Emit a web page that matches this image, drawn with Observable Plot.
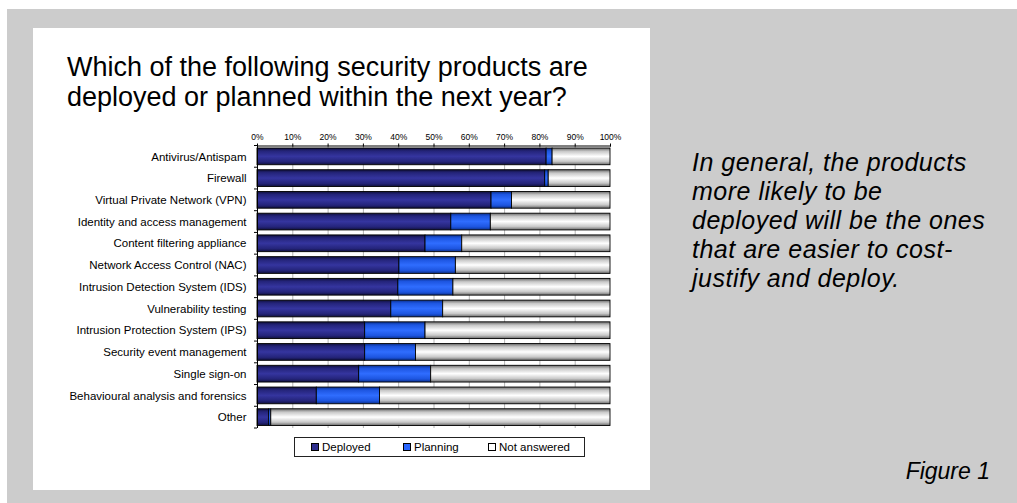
<!DOCTYPE html>
<html>
<head>
<meta charset="utf-8">
<script src="https://cdn.jsdelivr.net/npm/d3@7"></script>
<script src="https://cdn.jsdelivr.net/npm/@observablehq/plot@0.6"></script>
<style>
  html, body { margin: 0; padding: 0; background: #ffffff; }
  #page { position: relative; width: 1017px; height: 503px; overflow: hidden; font-family: "Liberation Sans", Arial, sans-serif; color: #000; }
  #gray { position: absolute; left: 7px; top: 9px; width: 1010px; height: 494px; background: #cccccc; }
  #panel { position: absolute; left: 33px; top: 28px; width: 617px; height: 462px; background: #ffffff; }
  #title { position: absolute; left: 67px; top: 52px; font-size: 27px; line-height: 30px; white-space: nowrap; }
  #note { position: absolute; left: 692px; top: 147.5px; font-size: 25px; line-height: 29px; font-style: italic; letter-spacing: 0.5px; white-space: nowrap; }
  #fig { position: absolute; right: 27px; top: 460px; font-size: 23px; line-height: 23px; font-style: italic; white-space: nowrap; }
  #chart { position: absolute; left: 0px; top: 120px; }
  #legend { position: absolute; left: 294px; top: 437px; width: 289px; height: 18px; border: 1px solid #222; background: #fff; font-size: 11.5px; }
  .item { position: absolute; top: 2px; line-height: 14px; white-space: nowrap; }
  .sw { display: inline-block; width: 6px; height: 6px; border: 1px solid #000; margin-right: 3px; vertical-align: 0px; }
</style>
</head>
<body>
<div id="page">
  <div id="gray"></div>
  <div id="panel"></div>
  <div id="title">Which of the following security products are<br>deployed or planned within the next year?</div>
  <div id="note">In general, the products<br>more likely to be<br>deployed will be the ones<br>that are easier to cost-<br>justify and deploy.</div>
  <div id="fig">Figure 1</div>
  <div id="chart"></div>
  <div id="legend"></div>
</div>
<script>
// ---- data ----
const categories = [
  "Antivirus/Antispam",
  "Firewall",
  "Virtual Private Network (VPN)",
  "Identity and access management",
  "Content filtering appliance",
  "Network Access Control (NAC)",
  "Intrusion Detection System (IDS)",
  "Vulnerability testing",
  "Intrusion Protection System (IPS)",
  "Security event management",
  "Single sign-on",
  "Behavioural analysis and forensics",
  "Other"
];
const deployed = [0.819, 0.815, 0.663, 0.549, 0.476, 0.402, 0.399, 0.379, 0.305, 0.305, 0.288, 0.168, 0.033];
const planning = [0.017, 0.010, 0.058, 0.112, 0.104, 0.160, 0.156, 0.147, 0.171, 0.144, 0.204, 0.179, 0.006];
const seriesNames = ["Deployed", "Planning", "Not answered"];
const tickValues = [0, 0.1, 0.2, 0.3, 0.4, 0.5, 0.6, 0.7, 0.8, 0.9, 1];
const tickLabels = ["0%", "10%", "20%", "30%", "40%", "50%", "60%", "70%", "80%", "90%", "100%"];

// ---- table ----
const rows = [];
categories.forEach((c, i) => {
  const d = deployed[i], p = planning[i];
  rows.push({cat: c, series: seriesNames[0], x1: 0, x2: d});
  rows.push({cat: c, series: seriesNames[1], x1: d, x2: d + p});
  rows.push({cat: c, series: seriesNames[2], x1: d + p, x2: 1});
});
const gradIds = {"Deployed": "gDep", "Planning": "gPlan", "Not answered": "gNA"};

const barMarks = seriesNames.map(s =>
  Plot.barX(rows.filter(r => r.series === s), {
    x1: "x1", x2: "x2", y: "cat",
    fill: `url(#${gradIds[s]})`, stroke: "#000", strokeWidth: 0.9
  })
);

const chart = Plot.plot({
  width: 650, height: 320,
  marginLeft: 257, marginRight: 40, marginTop: 25.5, marginBottom: 12,
  style: {background: "transparent", fontFamily: "'Liberation Sans', Arial, sans-serif", color: "#000", overflow: "visible"},
  x: {domain: [0, 1], axis: null},
  y: {domain: categories, paddingInner: 0.23, paddingOuter: 0.115, round: false, axis: null},
  marks: [
    Plot.gridX(tickValues.slice(1, 10), {stroke: "#b4b4b4", strokeOpacity: 1}),
    ...barMarks,
    Plot.ruleX([0], {stroke: "#000"}),
    Plot.frame({anchor: "top", stroke: "#000"}),
    Plot.axisX({anchor: "top", ticks: tickValues, tickFormat: d => tickLabels[Math.round(d * 10)], tickSize: 3, tickPadding: 3, fontSize: 8.5, label: null}),
    Plot.axisY({tickSize: 0, tickPadding: 11, fontSize: 11.5, label: null})
  ]
});

// gradients
const svg = d3.select(chart);
const defs = svg.insert("defs", ":first-child");
function grad(id, stops) {
  const g = defs.append("linearGradient").attr("id", id)
    .attr("x1", 0).attr("y1", 0).attr("x2", 0).attr("y2", 1);
  stops.forEach(([o, c]) => g.append("stop").attr("offset", o).attr("stop-color", c));
}
grad("gDep", [[0, "#10103c"], [0.18, "#24247a"], [0.5, "#35359f"], [0.82, "#24247a"], [1, "#10103c"]]);
grad("gPlan", [[0, "#0a2f8a"], [0.18, "#1d55e0"], [0.5, "#2f6dff"], [0.82, "#1d55e0"], [1, "#0a2f8a"]]);
grad("gNA", [[0, "#6a6a6a"], [0.2, "#c8c8c8"], [0.5, "#ffffff"], [0.8, "#c8c8c8"], [1, "#6a6a6a"]]);

// category boundary ticks on the left axis
const ys = chart.scale("y");
const xs = chart.scale("x");
const x0 = xs.apply(0);
const [r0, r1] = ys.range;
const n = categories.length;
const tg = svg.append("g").attr("stroke", "#000");
for (let i = 0; i <= n; i++) {
  const y = r0 + i * (r1 - r0) / n;
  tg.append("line").attr("x1", x0 - 3).attr("x2", x0).attr("y1", y).attr("y2", y);
}

document.getElementById("chart").appendChild(chart);

// legend
const legend = document.getElementById("legend");
const legendColors = {"Deployed": "#2e2e8e", "Planning": "#2a66ff", "Not answered": "#ffffff"};
const legendLeft = [16, 108, 193];
seriesNames.forEach((s, i) => {
  const item = document.createElement("div");
  item.className = "item";
  item.style.left = legendLeft[i] + "px";
  const sw = document.createElement("span");
  sw.className = "sw";
  sw.style.background = legendColors[s];
  item.appendChild(sw);
  item.appendChild(document.createTextNode(s));
  legend.appendChild(item);
});
</script>
</body>
</html>
